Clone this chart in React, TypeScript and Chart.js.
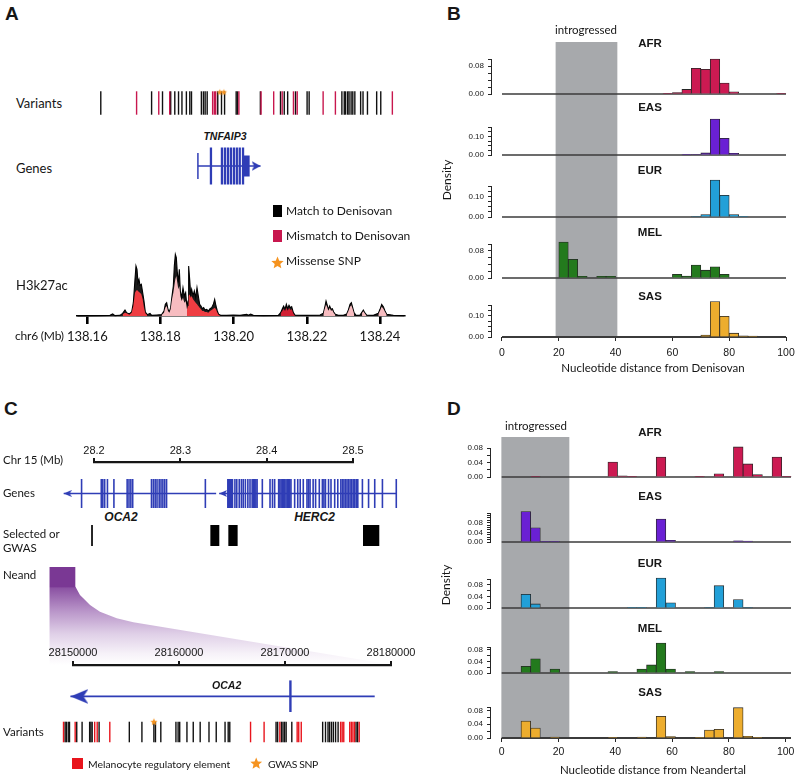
import React, { useEffect, useMemo, useRef } from 'react';
import { Chart, registerables } from 'chart.js';

Chart.register(...registerables);

const ARIAL = "'Liberation Sans', Arial, Helvetica, sans-serif";
const LATO = "Lato, 'Open Sans', 'Liberation Sans', sans-serif";
const INK = '#161616';
const BLUE = '#2f3db6';
Chart.defaults.font.family = ARIAL;

/* ================= Panels B and D : density histograms ================= */
const POPULATIONS = ['AFR', 'EAS', 'EUR', 'MEL', 'SAS'];
const POP_COLORS = ['#cc1a52', '#6a20d4', '#22a0d8', '#237a1d', '#edad2e'];
const X_TICKS = [0, 20, 40, 60, 80, 100];

const B_BIN_CENTERS = [1.67, 5, 8.33, 11.67, 15, 18.33, 21.67, 25, 28.33, 31.67, 35, 38.33, 41.67, 45, 48.33, 51.67, 55, 58.33, 61.67, 65, 68.33, 71.67, 75, 78.33, 81.67, 85, 88.33, 91.67, 95, 98.33];
const B_AFR = [0, 0, 0, 0, 0, 0, 0, 0, 0, 0, 0, 0, 0, 0, 0, 0, 0, 0.001, 0.004, 0.013, 0.0735, 0.0707, 0.1, 0.031, 0.0065, 0, 0, 0, 0, 0.002];
const B_EAS = [0, 0, 0, 0, 0, 0, 0, 0, 0, 0, 0, 0, 0, 0, 0, 0, 0, 0, 0, 0.001, 0.003, 0.011, 0.193, 0.089, 0.009, 0, 0, 0, 0, 0];
const B_EUR = [0, 0, 0, 0, 0, 0, 0, 0, 0, 0, 0, 0, 0, 0, 0, 0, 0, 0, 0, 0, 0.002, 0.012, 0.179, 0.105, 0.012, 0.003, 0, 0, 0, 0];
const B_MEL = [0, 0, 0, 0, 0, 0, 0.106, 0.055, 0.005, 0, 0.005, 0.005, 0, 0, 0, 0, 0, 0, 0.011, 0.006, 0.038, 0.023, 0.033, 0.011, 0, 0, 0, 0, 0, 0];
const B_SAS = [0, 0, 0, 0, 0, 0, 0, 0, 0, 0, 0, 0, 0, 0, 0, 0, 0, 0, 0, 0, 0, 0.009, 0.166, 0.097, 0.018, 0.005, 0.004, 0, 0, 0];
const B_Y_TICKS = [
  [0, 0.02, 0.04, 0.06, 0.08, 0.1],
  [0, 0.025, 0.05, 0.075, 0.1, 0.125, 0.15],
  [0, 0.025, 0.05, 0.075, 0.1, 0.125, 0.15],
  [0, 0.02, 0.04, 0.06, 0.08, 0.1],
  [0, 0.025, 0.05, 0.075, 0.1, 0.125, 0.15],
];
const B_Y_LABELS = [[0, 0.08], [0, 0.1], [0, 0.1], [0, 0.08], [0, 0.1]];
const B_INTROGRESSED = [19, 40.5];
const B_X_RANGE = [-3.87, 100];
const B_BASELINE = [0, 100];

const D_BIN_CENTERS = [1.7, 5.1, 8.5, 11.9, 15.3, 18.7, 22.1, 25.5, 28.9, 32.3, 35.7, 39.1, 42.5, 45.9, 49.3, 52.7, 56.1, 59.5, 62.9, 66.3, 69.7, 73.1, 76.5, 79.9, 83.3, 86.7, 90.1, 93.5, 96.9, 100.3];
const D_AFR = [0, 0, 0, 0.001, 0, 0, 0, 0, 0, 0, 0, 0.041, 0.003, 0.001, 0, 0, 0.055, 0, 0, 0, 0.001, 0, 0.009, 0, 0.083, 0.036, 0.0065, 0, 0.055, 0.002];
const D_EAS = [0, 0, 0.126, 0.059, 0.001, 0.001, 0, 0, 0, 0, 0, 0, 0, 0, 0, 0, 0.095, 0.007, 0, 0, 0, 0, 0, 0, 0.005, 0.004, 0, 0, 0, 0];
const D_EUR = [0, 0, 0.047, 0.014, 0, 0, 0, 0, 0, 0, 0, 0, 0, 0.001, 0.001, 0, 0.103, 0.018, 0, 0, 0, 0.002, 0.077, 0, 0.029, 0.002, 0, 0, 0, 0];
const D_MEL = [0, 0, 0.023, 0.049, 0, 0.014, 0, 0, 0, 0, 0, 0.005, 0, 0, 0.014, 0.028, 0.104, 0.014, 0, 0.005, 0, 0, 0.005, 0, 0, 0, 0, 0, 0, 0];
const D_SAS = [0, 0, 0.049, 0.029, 0, 0.003, 0, 0, 0, 0, 0, 0.001, 0, 0, 0.003, 0, 0.063, 0.004, 0, 0, 0.002, 0.023, 0.025, 0, 0.088, 0.005, 0.001, 0, 0, 0];
const D_Y_TICKS = [
  [0, 0.02, 0.04, 0.06, 0.08],
  [0, 0.01, 0.02, 0.03, 0.04, 0.05, 0.06, 0.07, 0.08, 0.09, 0.1, 0.11, 0.12],
  [0, 0.02, 0.04, 0.06, 0.08, 0.1],
  [0, 0.02, 0.04, 0.06, 0.08, 0.09],
  [0, 0.02, 0.04, 0.06, 0.08, 0.09],
];
const D_Y_LABELS = [0, 0.04, 0.08];
const D_INTROGRESSED = [0, 23.7];
const D_X_RANGE = [-4.12, 101.87];
const D_BASELINE = [0, 101.87];

/* ================= Panel A : TNFAIP3 locus (chr6, Mb) ================= */
const A_X_RANGE = [138.15718, 138.24656];
const A_TICKS = [138.16, 138.18, 138.2, 138.22, 138.24];
const A_MATCH = [138.1609, 138.1758, 138.179, 138.1814, 138.1826, 138.1837, 138.1847, 138.186, 138.187, 138.1875, 138.1904, 138.191, 138.1915, 138.1921, 138.1952, 138.1963, 138.1972, 138.2006, 138.201, 138.2077, 138.2136, 138.2147, 138.2157, 138.218, 138.2214, 138.222, 138.2316, 138.2323, 138.2327, 138.2333, 138.2337, 138.2343, 138.2348, 138.2354, 138.2371, 138.2378, 138.2391, 138.2418, 138.243];
const A_MISMATCH = [138.1714, 138.1779, 138.1811, 138.1937, 138.1942, 138.1946, 138.2014, 138.2079, 138.2116, 138.2141, 138.2174, 138.2185, 138.2261, 138.2297, 138.2464];
const A_MISSENSE = [138.1958, 138.197];
const TNFAIP3_SPAN = [138.1885, 138.2077];
const TNFAIP3_EXONS = [138.1925, 138.19587, 138.19679, 138.1977, 138.1986, 138.19953, 138.20043, 138.20133, 138.20234];
const TNFAIP3_UTR = [138.20345];
const H3_POS = [
  138.15727, 138.16346, 138.1662, 138.16693, 138.16756, 138.16893, 138.16966, 138.1703, 138.17075, 138.17148,
  138.17212, 138.17258, 138.17303, 138.1733, 138.17358, 138.17385, 138.17412, 138.1744, 138.17476, 138.17513,
  138.17549, 138.17586, 138.1764, 138.17713, 138.17759, 138.17895, 138.18032, 138.18096, 138.18132, 138.18169,
  138.18205, 138.18242, 138.18278, 138.18315, 138.18351, 138.18378, 138.18406, 138.18433, 138.1846, 138.18488,
  138.18515, 138.18542, 138.18579, 138.18615, 138.18652, 138.18688, 138.18725, 138.18752, 138.1877, 138.18798,
  138.18825, 138.18852, 138.18889, 138.18925, 138.18962, 138.18998, 138.19034, 138.19071, 138.19107, 138.19144,
  138.1918, 138.19217, 138.19262, 138.19308, 138.19353, 138.19399, 138.19445, 138.19481, 138.19517, 138.19554,
  138.1959, 138.19645, 138.19809, 138.19991, 138.20174, 138.20356, 138.20401, 138.20465, 138.20538, 138.20811,
  138.21221, 138.21285, 138.21331, 138.21367, 138.21404, 138.2144, 138.21477, 138.21513, 138.2155, 138.21586,
  138.21632, 138.21677, 138.21996, 138.22361, 138.22452, 138.22497, 138.22525, 138.22552, 138.22588, 138.22625,
  138.22661, 138.22698, 138.22734, 138.2278, 138.22862, 138.22998, 138.2309, 138.23135, 138.23181, 138.23217,
  138.23254, 138.2329, 138.23345, 138.23454, 138.23509, 138.23545, 138.23582, 138.23636, 138.23819, 138.23955,
  138.24001, 138.24046, 138.24092, 138.24137, 138.24183, 138.24365, 138.24656,
];
const H3_ALL = [
  0, 1, 2, 6, 1, 2, 8, 18, 10, 6,
  12, 40, 110, 150, 140, 100, 110, 92, 95, 70,
  45, 12, 4, 8, 2, 3, 4, 15, 35, 40,
  20, 12, 25, 60, 90, 150, 185, 175, 130, 100,
  140, 75, 55, 85, 60, 70, 25, 45, 150, 110,
  65, 80, 60, 75, 55, 85, 60, 35, 30, 22,
  25, 18, 20, 15, 22, 25, 35, 50, 30, 15,
  5, 2, 2, 3, 2, 5, 2, 6, 2, 1,
  2, 10, 22, 30, 20, 35, 22, 32, 25, 28,
  10, 3, 2, 3, 8, 30, 45, 35, 20, 30,
  20, 22, 12, 5, 2, 2, 6, 18, 35, 40,
  25, 10, 2, 3, 12, 18, 10, 3, 2, 8,
  20, 35, 28, 15, 5, 2, 1,
];
const H3_SUB = [
  0, 0, 0, 0, 0, 0, 5, 10, 8, 4,
  10, 30, 70, 75, 78, 75, 72, 70, 65, 50,
  25, 8, 2, 0, 0, 0, 3, 10, 25, 30,
  15, 10, 20, 50, 70, 90, 110, 120, 100, 80,
  90, 60, 45, 55, 40, 45, 20, 30, 60, 65,
  55, 60, 50, 45, 40, 35, 30, 25, 20, 15,
  15, 12, 12, 10, 15, 18, 22, 25, 20, 10,
  3, 0, 0, 0, 0, 0, 0, 0, 0, 0,
  0, 8, 15, 22, 15, 25, 16, 24, 18, 20,
  7, 0, 0, 0, 5, 24, 34, 28, 16, 24,
  16, 17, 9, 3, 0, 0, 4, 14, 28, 32,
  20, 7, 0, 0, 9, 14, 8, 0, 0, 6,
  16, 28, 22, 12, 4, 0, 0,
];
const H3_RED_REGIONS = [[138.1696, 138.1766], [138.1873, 138.1966]];
const H3_DARK_REGIONS = [[138.2128, 138.2168]];
const H3_PINK_REGIONS = [[138.1803, 138.1873], [138.2245, 138.2279], [138.2308, 138.233], [138.235, 138.2364], [138.2395, 138.2419]];

/* ================= Panel C : OCA2 / HERC2 (chr15) ================= */
const C_X_RANGE = [28.14331, 28.57139];
const C_MB_TICKS = [28.2, 28.3, 28.4, 28.5];
const OCA2_SPAN = [28.1491, 28.34];
const HERC2_SPAN = [28.3438, 28.5664];
const OCA2_EXONS = [28.17146, 28.19614, 28.19807, 28.20039, 28.20386, 28.21196, 28.22854, 28.23085, 28.23317, 28.23548, 28.259, 28.26132, 28.26363, 28.26595, 28.26865, 28.27096, 28.27327, 28.27559, 28.2779, 28.32649];
const HERC2_EXONS = [28.35465, 28.3558, 28.35696, 28.35812, 28.35927, 28.36043, 28.36352, 28.36583, 28.36892, 28.37162, 28.37393, 28.37663, 28.37971, 28.38241, 28.38511, 28.38666, 28.3882, 28.38974, 28.39128, 28.39784, 28.40748, 28.41057, 28.41327, 28.41828, 28.41983, 28.42137, 28.42291, 28.42445, 28.426, 28.42754, 28.42908, 28.43062, 28.43216, 28.43371, 28.43833, 28.44219, 28.44527, 28.44913, 28.45376, 28.45569, 28.45762, 28.46147, 28.46456, 28.46919, 28.47304, 28.47497, 28.4769, 28.48076, 28.48384, 28.48847, 28.49233, 28.49618, 28.49811, 28.50004, 28.50197, 28.5039, 28.50582, 28.50775, 28.50968, 28.51161, 28.51354, 28.51547, 28.5174, 28.52318, 28.5309, 28.53861, 28.54825, 28.5656];
const C_SELECTED = [[28.1971, 28.1983], [28.335, 28.3446], [28.3558, 28.3658], [28.5116, 28.5297]];
const NEAND_X = [28.1483, 28.1784, 28.1784, 28.1838, 28.1954, 28.2069, 28.2263, 28.2455, 28.5463];
const NEAND_Y = [1, 1, 0.8, 0.714, 0.612, 0.544, 0.477, 0.436, 0];
const C_DETAIL_RANGE = [28147387, 28180406];
const C_BP_TICKS = [28150000, 28160000, 28170000, 28180000];
const OCA2_DETAIL_SPAN = [28148330, 28180000];
const OCA2_DETAIL_EXONS = [28171226];
const C_VAR_BLACK = [28148424, 28148550, 28148739, 28148865, 28149588, 28150123, 28150877, 28151003, 28151129, 28151821, 28154840, 28156098, 28157293, 28157451, 28157985, 28159495, 28159715, 28159872, 28160595, 28161225, 28161916, 28162797, 28163520, 28164401, 28164715, 28164873, 28169496, 28169653, 28170030, 28170188, 28170345, 28170502, 28171068, 28174150, 28174434, 28174685, 28174842, 28175031, 28175220, 28175440, 28175692, 28177484, 28177641];
const C_VAR_RED = [28148267, 28149431, 28151381, 28151632, 28152890, 28166948, 28168301, 28169873, 28171603, 28171760, 28172012, 28175943, 28176100, 28176258, 28176855, 28177012, 28177170, 28177327, 28177798];
const C_GWAS = [28157293];

/* ================= helpers ================= */
type Box = { l: number; t: number; r: number; b: number };
type Spec = { id: string; area: Box; ext: Box; axL?: number; axT?: number; axB?: number; make: (padding: any, g: any) => any };

const rectOf = (s: Spec) => ({
  left: s.area.l - s.ext.l,
  top: s.area.t - s.ext.t,
  width: s.area.r - s.area.l + s.ext.l + s.ext.r,
  height: s.area.b - s.area.t + s.ext.t + s.ext.b,
});
const padOf = (s: Spec) => ({
  left: s.ext.l - (s.axL || 0),
  right: s.ext.r,
  top: s.ext.t - (s.axT || 0),
  bottom: s.ext.b - (s.axB || 0),
});
const fixSize = (dim: 'width' | 'height', v: number) => (sc: any) => {
  sc[dim] = v;
  sc.paddingLeft = 0; sc.paddingRight = 0; sc.paddingTop = 0; sc.paddingBottom = 0;
};
const setTicks = (vals: number[]) => (sc: any) => { sc.ticks = vals.map((value) => ({ value })); };
const hiddenLinear = (r: number[]) => ({ type: 'linear', display: false, min: r[0], max: r[1], offset: false, grid: { offset: false } });
const opts = (padding: any, scales: any, extra: any = {}) => ({
  responsive: false, maintainAspectRatio: false, animation: false, devicePixelRatio: 1, events: [],
  layout: { padding },
  plugins: { legend: { display: false }, tooltip: { enabled: false }, title: { display: false } },
  scales, ...extra,
});

const tickMarks = (xs: number[], y: number, color: string, radius: number, width: number) => ({
  type: 'scatter', data: xs.map((x) => ({ x, y })), pointStyle: 'line', pointRotation: 90,
  pointRadius: radius, pointHoverRadius: radius, pointBorderWidth: width, pointBorderColor: color,
  pointBackgroundColor: color, clip: false,
});
const glyphMarks = (xs: number[], y: number, img: any) => ({
  type: 'scatter', data: xs.map((x) => ({ x, y })), pointStyle: img, pointRadius: 4, pointHoverRadius: 4, clip: false,
});
const spanLine = (span: number[], color: string, width: number) => ({
  type: 'line', data: span.map((x) => ({ x, y: 0 })), borderColor: color, borderWidth: width, pointRadius: 0, fill: false, clip: false,
});

function histSpec(id: string, area: Box, xr: number[], baseline: number[], centers: number[], values: number[], color: string,
  yTicks: number[], yLabels: number[], last: boolean, labelPad: number): Spec {
  const axL = 40;
  const axB = last ? 30 : 0;
  return {
    id, area, ext: { l: axL, t: 16, r: 12, b: axB + 3 }, axL, axB,
    make: (padding) => ({
      type: 'bar',
      data: {
        datasets: [
          { type: 'bar', data: centers.map((x, i) => ({ x, y: values[i] })), backgroundColor: color, borderColor: '#262626',
            borderWidth: 0.8, borderSkipped: 'start', barPercentage: 1, categoryPercentage: 1, clip: false },
          { type: 'line', data: baseline.map((x) => ({ x, y: 0 })), borderColor: '#3b3b3b', borderWidth: last ? 2.2 : 1.3,
            pointRadius: 0, clip: false },
        ],
      },
      options: opts(padding, {
        x: {
          type: 'linear', min: xr[0], max: xr[1], offset: false, display: last, position: 'bottom',
          afterBuildTicks: setTicks(X_TICKS), afterFit: fixSize('height', axB),
          border: { display: false },
          grid: { offset: false, display: true, drawOnChartArea: false, drawTicks: true, tickLength: 4, color: '#262626', lineWidth: 1 },
          ticks: { autoSkip: false, maxRotation: 0, minRotation: 0, padding: labelPad, color: INK, font: { family: ARIAL, size: 10.5 } },
        },
        y: {
          type: 'linear', min: 0, max: yTicks[yTicks.length - 1], position: 'left',
          afterBuildTicks: setTicks(yTicks), afterFit: fixSize('width', axL),
          border: { display: true, color: '#262626', width: 1 },
          grid: { display: true, drawOnChartArea: false, drawTicks: true, tickLength: 3, color: '#262626', lineWidth: 1 },
          ticks: {
            autoSkip: false, padding: 4, color: INK, font: { family: ARIAL, size: 8 },
            callback: (v: any) => (yLabels.some((l) => Math.abs(l - v) < 1e-9) ? Number(v).toFixed(2) : ''),
          },
        },
      }),
    }),
  };
}

function boxesSpec(id: string, area: Box, xr: number[], spans: number[][], color: string): Spec {
  return {
    id, area, ext: { l: 0, t: 0, r: 0, b: 0 },
    make: (padding) => ({
      type: 'bar',
      data: {
        labels: ['row'],
        datasets: [{ data: spans.map((s) => ({ x: s, y: 'row' })), backgroundColor: color, borderWidth: 0,
          barPercentage: 1, categoryPercentage: 1, clip: false }],
      },
      options: opts(padding, { x: hiddenLinear(xr), y: { type: 'category', labels: ['row'], display: false } }, { indexAxis: 'y' }),
    }),
  };
}

function trackSpec(id: string, area: Box, ext: Box, xr: number[], yr: number[], datasets: (g: any) => any[]): Spec {
  return {
    id, area, ext,
    make: (padding, g) => ({ type: 'scatter', data: { datasets: datasets(g) }, options: opts(padding, { x: hiddenLinear(xr), y: hiddenLinear(yr) }) }),
  };
}

function scaleBarSpec(id: string, area: Box, ext: Box, axT: number, xr: number[], ticks: number[], fmt: (v: any) => string, pad: number): Spec {
  return {
    id, area, ext, axT,
    make: (padding) => ({
      type: 'scatter',
      data: { datasets: [] },
      options: opts(padding, {
        x: {
          type: 'linear', position: 'top', min: xr[0], max: xr[1], offset: false,
          afterBuildTicks: setTicks(ticks), afterFit: fixSize('height', axT),
          border: { display: true, color: INK, width: 2.2 },
          grid: { display: true, drawOnChartArea: false, drawTicks: true, tickLength: 4, lineWidth: 2, color: INK },
          ticks: { autoSkip: false, maxRotation: 0, minRotation: 0, padding: pad, color: INK, font: { family: ARIAL, size: 11 }, callback: fmt },
        },
        y: hiddenLinear([0, 1]),
      }),
    }),
  };
}

const inRegions = (x: number, regs: number[][]) => regs.some(([a, b]) => x >= a && x <= b);
const h3Color = (x: number) => {
  if (inRegions(x, H3_RED_REGIONS)) return '#ef3d42';
  if (inRegions(x, H3_DARK_REGIONS)) return '#d11f33';
  if (inRegions(x, H3_PINK_REGIONS)) return '#f7bcc0';
  return undefined;
};

function buildSpecs(): Spec[] {
  const specs: Spec[] = [];
  // Panel B
  specs.push(boxesSpec('b-bg', { l: 491, t: 42, r: 786, b: 337 }, B_X_RANGE, [B_INTROGRESSED], '#a7a9ac'));
  const bRows = [[59, 94], [127, 155], [186, 217], [244, 278], [305, 337]];
  const bVals = [B_AFR, B_EAS, B_EUR, B_MEL, B_SAS];
  bRows.forEach(([t, b], i) => specs.push(histSpec(`b-${i}`, { l: 491, t, r: 786, b }, B_X_RANGE, B_BASELINE, B_BIN_CENTERS,
    bVals[i], POP_COLORS[i], B_Y_TICKS[i], B_Y_LABELS[i], i === 4, 6)));
  // Panel D
  specs.push(boxesSpec('d-bg', { l: 490, t: 437, r: 791, b: 738 }, D_X_RANGE, [D_INTROGRESSED], '#a7a9ac'));
  const dRows = [[448, 477], [513, 542], [579, 608], [647, 673], [707, 738]];
  const dVals = [D_AFR, D_EAS, D_EUR, D_MEL, D_SAS];
  dRows.forEach(([t, b], i) => specs.push(histSpec(`d-${i}`, { l: 490, t, r: 791, b }, D_X_RANGE, D_BASELINE, D_BIN_CENTERS,
    dVals[i], POP_COLORS[i], D_Y_TICKS[i], D_Y_LABELS, i === 4, 3.4)));
  // Panel A
  specs.push(trackSpec('a-var', { l: 77, t: 85, r: 404, b: 103 }, { l: 2, t: 6, r: 2, b: 14 }, A_X_RANGE, [0, 1], (g) => [
    glyphMarks(A_MISSENSE, 1, g.starA),
    tickMarks(A_MISMATCH, 0, '#c8174e', 11.7, 1.4),
    tickMarks(A_MATCH, 0, '#111111', 11.7, 1.4),
  ]));
  specs.push(trackSpec('a-gene', { l: 77, t: 147, r: 404, b: 185 }, { l: 2, t: 2, r: 4, b: 2 }, A_X_RANGE, [-1, 1], (g) => [
    glyphMarks([TNFAIP3_SPAN[1]], 0, g.arrowA),
    tickMarks(TNFAIP3_EXONS, 0, BLUE, 18.5, 2.3),
    tickMarks(TNFAIP3_UTR, 0, BLUE, 10.5, 6),
    tickMarks([TNFAIP3_SPAN[0]], 0, BLUE, 13, 1.5),
    spanLine(TNFAIP3_SPAN, BLUE, 1.6),
  ]));
  specs.push({
    id: 'a-signal', area: { l: 77, t: 251, r: 404, b: 316 }, ext: { l: 20, t: 2, r: 24, b: 32 }, axB: 30,
    make: (padding) => ({
      type: 'line',
      data: {
        datasets: [
          { data: H3_POS.map((x, i) => ({ x, y: H3_SUB[i] })), borderWidth: 0, borderColor: 'rgba(0,0,0,0)',
            backgroundColor: 'rgba(0,0,0,0)', fill: 'origin', pointRadius: 0, tension: 0, clip: false,
            segment: { backgroundColor: (c: any) => h3Color((H3_POS[c.p0DataIndex] + H3_POS[c.p1DataIndex]) / 2) } },
          { data: H3_POS.map((x, i) => ({ x, y: H3_ALL[i] })), borderWidth: 1.1, borderColor: '#000',
            backgroundColor: '#1b1b1b', fill: 'origin', pointRadius: 0, tension: 0, clip: false },
        ],
      },
      options: opts(padding, {
        x: {
          type: 'linear', min: A_X_RANGE[0], max: A_X_RANGE[1], offset: false, z: 1,
          afterBuildTicks: setTicks(A_TICKS), afterFit: fixSize('height', 30),
          border: { display: true, color: '#000', width: 1.6 },
          grid: { display: true, drawOnChartArea: false, drawTicks: true, tickLength: 8, lineWidth: 2.6, color: '#000' },
          ticks: { autoSkip: false, maxRotation: 0, minRotation: 0, padding: 5, color: INK, font: { family: LATO, size: 13 },
            callback: (v: any) => Number(v).toFixed(2) },
        },
        y: hiddenLinear([0, 195]),
      }),
    }),
  });
  // Panel C
  specs.push(scaleBarSpec('c-scale1', { l: 94, t: 462, r: 353, b: 463 }, { l: 20, t: 24, r: 20, b: 1 }, 22, [28.2, 28.5], C_MB_TICKS,
    (v) => Number(v).toFixed(1), 0));
  specs.push(trackSpec('c-genes', { l: 45, t: 479, r: 415, b: 508 }, { l: 2, t: 2, r: 2, b: 2 }, C_X_RANGE, [-1, 1], (g) => [
    glyphMarks([OCA2_SPAN[0], HERC2_SPAN[0]], 0, g.arrowC),
    tickMarks(OCA2_EXONS, 0, BLUE, 14.5, 1.6),
    tickMarks(HERC2_EXONS, 0, BLUE, 14.5, 1.6),
    spanLine(OCA2_SPAN, BLUE, 1.6),
    spanLine(HERC2_SPAN, BLUE, 1.6),
  ]));
  specs.push(boxesSpec('c-sel', { l: 45, t: 525, r: 415, b: 546 }, C_X_RANGE, C_SELECTED, '#000000'));
  specs.push({
    id: 'c-neand', area: { l: 45, t: 567, r: 415, b: 665 }, ext: { l: 0, t: 0, r: 0, b: 0 },
    make: (padding) => ({
      type: 'line',
      data: {
        datasets: [{
          data: NEAND_X.map((x, i) => ({ x, y: NEAND_Y[i] })), borderWidth: 0, borderColor: 'rgba(0,0,0,0)', fill: 'origin',
          pointRadius: 0, tension: 0, clip: false,
          backgroundColor: (c: any) => {
            const a = c.chart.chartArea;
            if (!a) return '#b08cc0';
            const gr = c.chart.ctx.createLinearGradient(0, a.top, 0, a.bottom);
            gr.addColorStop(0, '#7a3894');
            gr.addColorStop(0.2, '#7a3894');
            gr.addColorStop(0.215, '#8b52a3');
            gr.addColorStop(0.45, '#b995c9');
            gr.addColorStop(0.68, '#dfcfe7');
            gr.addColorStop(0.88, '#f6f1f8');
            gr.addColorStop(1, '#ffffff');
            return gr;
          },
        }],
      },
      options: opts(padding, { x: hiddenLinear(C_X_RANGE), y: hiddenLinear([0, 1]) }),
    }),
  });
  specs.push(scaleBarSpec('c-scale2', { l: 73, t: 665, r: 391, b: 666 }, { l: 30, t: 22, r: 30, b: 1 }, 20, [28150000, 28180000], C_BP_TICKS,
    (v) => String(Math.round(Number(v))), 1));
  specs.push(trackSpec('c-detail', { l: 45, t: 680, r: 395, b: 710 }, { l: 2, t: 2, r: 2, b: 2 }, C_DETAIL_RANGE, [-1, 1], (g) => [
    glyphMarks([OCA2_DETAIL_SPAN[0]], 0, g.arrowBig),
    tickMarks(OCA2_DETAIL_EXONS, 0, BLUE, 16, 2.4),
    spanLine(OCA2_DETAIL_SPAN, BLUE, 1.8),
  ]));
  specs.push(trackSpec('c-var', { l: 45, t: 716, r: 395, b: 732 }, { l: 2, t: 6, r: 2, b: 12 }, C_DETAIL_RANGE, [0, 1], (g) => [
    glyphMarks(C_GWAS, 1, g.starC),
    tickMarks(C_VAR_RED, 0, '#e8141c', 10.3, 1.4),
    tickMarks(C_VAR_BLACK, 0, '#111111', 10.3, 1.4),
  ]));
  return specs;
}

/* glyph images used as point styles */
function starPoints(cx: number, cy: number, r: number) {
  const pts: number[][] = [];
  for (let k = 0; k < 10; k++) {
    const ang = -Math.PI / 2 + (k * Math.PI) / 5;
    const rr = k % 2 === 0 ? r : r * 0.45;
    pts.push([cx + rr * Math.cos(ang), cy + rr * Math.sin(ang)]);
  }
  return pts;
}
function starImage(r: number, color: string) {
  const s = Math.ceil(r * 2) + 2;
  const c = document.createElement('canvas');
  c.width = s; c.height = s;
  const g = c.getContext('2d')!;
  g.fillStyle = color;
  g.beginPath();
  starPoints(s / 2, s / 2 + r * 0.08, r).forEach(([x, y], i) => (i ? g.lineTo(x, y) : g.moveTo(x, y)));
  g.closePath();
  g.fill();
  return c;
}
function arrowImage(len: number, half: number, dir: number, color: string, notch: number) {
  const c = document.createElement('canvas');
  c.width = len * 2; c.height = Math.ceil(half * 2);
  const g = c.getContext('2d')!;
  g.fillStyle = color;
  const tipX = len;
  const backX = tipX - dir * len;
  g.beginPath();
  g.moveTo(tipX, half);
  g.lineTo(backX, 0);
  g.lineTo(backX + dir * notch, half);
  g.lineTo(backX, half * 2);
  g.closePath();
  g.fill();
  return c;
}

/* text overlay */
const Txt = ({ x, y, children, size = 13, bold = false, italic = false, font = LATO, center = false, rotate = 0, color = INK, spacing = 0 }: any) => (
  <div
    style={{
      position: 'absolute', left: x, top: y,
      transform: `translate(${center ? '-50%' : '0'}, -50%)${rotate ? ` rotate(${rotate}deg)` : ''}`,
      fontFamily: font, fontSize: size, fontWeight: bold ? 700 : 400, fontStyle: italic ? 'italic' : 'normal',
      color, whiteSpace: 'nowrap', lineHeight: 1, letterSpacing: spacing,
    }}
  >
    {children}
  </div>
);
const StarSvg = ({ cx, cy, r, color }: any) => (
  <svg width={r * 2 + 2} height={r * 2 + 2} style={{ position: 'absolute', left: cx - r - 1, top: cy - r - 1 }}>
    <polygon points={starPoints(r + 1, r + 1 + r * 0.08, r).map((p) => p.join(',')).join(' ')} fill={color} />
  </svg>
);
const Square = ({ x, y, w, h, color }: any) => (
  <div style={{ position: 'absolute', left: x, top: y, width: w, height: h, background: color }} />
);

export default function App() {
  const specs = useMemo(buildSpecs, []);
  const refs = useRef<(HTMLCanvasElement | null)[]>([]);

  useEffect(() => {
    const g = {
      starA: starImage(3.3, '#f5931f'),
      starC: starImage(3.8, '#f5931f'),
      arrowA: arrowImage(9, 5, 1, BLUE, 2.5),
      arrowC: arrowImage(8, 3.5, -1, BLUE, 2),
      arrowBig: arrowImage(18, 7.5, -1, BLUE, 5),
    };
    const charts = specs.map((s, i) => new Chart(refs.current[i] as HTMLCanvasElement, s.make(padOf(s), g)));
    return () => charts.forEach((c) => c.destroy());
  }, [specs]);

  const bPopY = [44, 108, 171, 233, 297];
  const dPopY = [433, 497, 564, 629, 693];

  return (
    <div style={{ position: 'absolute', left: 0, top: 0, width: 800, height: 777, background: '#ffffff', overflow: 'hidden' }}>
      {specs.map((s, i) => {
        const r = rectOf(s);
        return (
          <canvas
            key={s.id}
            ref={(el) => { refs.current[i] = el; }}
            width={r.width}
            height={r.height}
            style={{ position: 'absolute', left: r.left, top: r.top, width: r.width, height: r.height }}
          />
        );
      })}

      {/* panel letters */}
      <Txt x={5} y={13} size={19} bold font={ARIAL}>A</Txt>
      <Txt x={447} y={13} size={19} bold font={ARIAL}>B</Txt>
      <Txt x={4} y={408} size={19} bold font={ARIAL}>C</Txt>
      <Txt x={447} y={408} size={19} bold font={ARIAL}>D</Txt>

      {/* panel A */}
      <Txt x={16} y={103}>Variants</Txt>
      <Txt x={16} y={168}>Genes</Txt>
      <Txt x={16} y={285}>H3k27ac</Txt>
      <Txt x={15} y={336} size={12} spacing={-0.2}>chr6 (Mb)</Txt>
      <Txt x={225} y={136} size={10.5} bold italic font={ARIAL} center>TNFAIP3</Txt>
      <Square x={273} y={205} w={9} h={12} color="#000000" />
      <Square x={273} y={230} w={9} h={12} color="#c8174e" />
      <StarSvg cx={277} cy={262} r={6.5} color="#f5931f" />
      <Txt x={286} y={211} size={12}>Match to Denisovan</Txt>
      <Txt x={286} y={236} size={12}>Mismatch to Denisovan</Txt>
      <Txt x={286} y={261} size={12}>Missense SNP</Txt>

      {/* panel B */}
      <Txt x={586} y={30} size={11.5} center>introgressed</Txt>
      {POPULATIONS.map((p, i) => (
        <Txt key={`bp-${p}`} x={650} y={bPopY[i]} size={11.5} bold font={ARIAL} center>{p}</Txt>
      ))}
      <Txt x={447} y={180} size={12} center rotate={-90}>Density</Txt>
      <Txt x={653} y={368} size={11.5} center>Nucleotide distance from Denisovan</Txt>

      {/* panel C */}
      <Txt x={3} y={460} size={11.5}>Chr 15 (Mb)</Txt>
      <Txt x={3} y={493} size={11.5}>Genes</Txt>
      <Txt x={121} y={517} size={12} bold italic font={ARIAL} center>OCA2</Txt>
      <Txt x={314.5} y={517} size={12} bold italic font={ARIAL} center>HERC2</Txt>
      <Txt x={3} y={534} size={11.5}>Selected or</Txt>
      <Txt x={3} y={548} size={11.5}>GWAS</Txt>
      <Txt x={3} y={575} size={11.5}>Neand</Txt>
      <Txt x={226.7} y={685} size={10.5} bold italic font={ARIAL} center>OCA2</Txt>
      <Txt x={3} y={732} size={11.5}>Variants</Txt>
      <Square x={72} y={758} w={10.5} h={11} color="#e8141c" />
      <Txt x={88} y={763.5} size={10.4}>Melanocyte regulatory element</Txt>
      <StarSvg cx={256} cy={763.5} r={6.2} color="#f5931f" />
      <Txt x={268} y={763.5} size={10.4} spacing={-0.4}>GWAS SNP</Txt>

      {/* panel D */}
      <Txt x={536} y={426} size={11.5} center>introgressed</Txt>
      {POPULATIONS.map((p, i) => (
        <Txt key={`dp-${p}`} x={650} y={dPopY[i]} size={11.5} bold font={ARIAL} center>{p}</Txt>
      ))}
      <Txt x={446} y={585} size={12} center rotate={-90}>Density</Txt>
      <Txt x={653} y={770} size={11.5} center>Nucleotide distance from Neandertal</Txt>
    </div>
  );
}
